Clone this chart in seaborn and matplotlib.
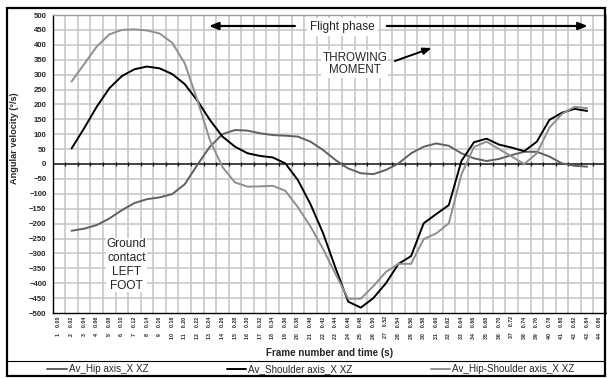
import numpy as np
import pandas as pd
import matplotlib
matplotlib.use("Agg")
import matplotlib.pyplot as plt
from matplotlib.patches import Rectangle
from matplotlib.lines import Line2D
import seaborn as sns

# Category axis: frame numbers and time stamps (s)
frames = [1, 2, 3, 4, 5, 6, 7, 8, 9, 10, 11, 12, 13, 14, 15, 16, 17, 18, 19, 20, 21, 22,
          23, 24, 25, 26, 27, 28, 29, 30, 31, 32, 33, 34, 35, 36, 37, 38, 39, 40, 41, 42, 43, 44]
times = ["0.00", "0.02", "0.04", "0.06", "0.08", "0.10", "0.12", "0.14", "0.16", "0.18", "0.20",
         "0.22", "0.24", "0.26", "0.28", "0.30", "0.32", "0.34", "0.36", "0.38", "0.40", "0.42",
         "0.44", "0.46", "0.48", "0.50", "0.52", "0.54", "0.56", "0.58", "0.60", "0.62", "0.64",
         "0.66", "0.68", "0.70", "0.72", "0.74", "0.76", "0.78", "0.80", "0.82", "0.84", "0.86"]

# Measured frames (category positions) and angular velocities (deg/s)
frame_idx = [1, 2, 3, 4, 5, 6, 7, 8, 9, 10, 11, 12, 13, 14, 15, 16, 17, 18, 19, 20, 21,
             22, 23, 24, 25, 26, 27, 28, 29, 30, 31, 32, 33, 34, 35, 36, 37, 38, 39, 40, 41, 42]
hip = [-224, -217, -205, -183, -155, -131, -118, -112, -101, -68, -3, 58, 100, 114, 112, 103,
       97, 95, 92, 75, 47, 13, -15, -31, -34, -20, 2, 36, 58, 69, 61, 36, 19, 10, 17, 30, 41,
       41, 25, 2, -6, -9]
shoulder = [52, 120, 192, 254, 295, 318, 327, 321, 302, 268, 213, 148, 92, 58, 36, 27, 22, 2,
            -54, -135, -232, -350, -462, -482, -450, -400, -335, -309, -199, -168, -138, 10, 73,
            85, 65, 55, 43, 75, 148, 172, 185, 178]
hip_shoulder = [277, 335, 394, 435, 450, 452, 448, 438, 407, 338, 215, 80, -10, -62, -76, -75,
                -73, -90, -145, -210, -285, -370, -452, -452, -410, -362, -335, -335, -252, -233,
                -199, -35, 57, 75, 50, 25, 0, 36, 122, 168, 192, 187]

series_names = ["Av_Hip axis_X XZ", "Av_Shoulder axis_X XZ", "Av_Hip-Shoulder axis_X XZ"]
series_colors = ["#606060", "#000000", "#8f8f8f"]

df = pd.concat([
    pd.DataFrame({"frame": frame_idx, "velocity": hip, "series": series_names[0]}),
    pd.DataFrame({"frame": frame_idx, "velocity": shoulder, "series": series_names[1]}),
    pd.DataFrame({"frame": frame_idx, "velocity": hip_shoulder, "series": series_names[2]}),
], ignore_index=True)

sns.set_style("white")
plt.rcParams["font.family"] = ["Liberation Sans", "DejaVu Sans"]

W, H = 607, 378
fig = plt.figure(figsize=(W / 100, H / 100), dpi=100)
ax = fig.add_axes([52.7 / W, 1 - 313 / H, (606 - 52.7) / W, (313 - 15) / H])

n_cat = len(frames)
ax.set_xlim(-0.5, n_cat - 0.5)
ax.set_ylim(-500, 500)

# grid: category boundaries and every 50 deg/s
bounds = np.arange(n_cat + 1) - 0.5
for b in bounds[1:-1]:
    ax.axvline(b, color="#c4c4c4", lw=1.1, zorder=0)
for v in np.arange(-450, 500, 50):
    ax.axhline(v, color="#c4c4c4", lw=1.1, zorder=0)

# category axis crossing at zero
ax.axhline(0, color="#3a3a3a", lw=1.3, zorder=1)
ax.vlines(bounds[1:-1], -7, 7, color="#111111", lw=0.9, zorder=1)

sns.lineplot(data=df, x="frame", y="velocity", hue="series", hue_order=series_names,
             palette=series_colors, linewidth=1.4, ax=ax, zorder=3)
handles, labels = ax.get_legend_handles_labels()
ax.get_legend().remove()

# axes styling
for side in ["left", "bottom"]:
    ax.spines[side].set_color("#000000")
    ax.spines[side].set_linewidth(1.0)
for side in ["top", "right"]:
    ax.spines[side].set_color("#9a9a9a")
    ax.spines[side].set_linewidth(1.0)

ax.set_yticks(np.arange(-500, 501, 50))
ax.tick_params(axis="y", direction="out", length=2.5, width=0.8, color="#000000",
               labelsize=5.6, pad=2)
for t in ax.get_yticklabels():
    t.set_fontweight("bold")

ax.set_xticks(np.arange(n_cat))
ax.set_xticklabels([f"{f}    {t}" for f, t in zip(frames, times)], rotation=90,
                   fontsize=3.8, fontweight="bold", va="top", ha="center")
ax.tick_params(axis="x", which="major", length=0, pad=2.5)
ax.set_xticks(bounds, minor=True)
ax.tick_params(axis="x", which="minor", direction="out", length=21, width=0.8,
               color="#000000")
ax.set_xlabel("")
ax.set_ylabel("")

fig.text(329.5 / W, 1 - 353 / H, "Frame number and time (s)", ha="center", va="center",
         fontsize=7.1, fontweight="bold")
fig.text(15 / W, 1 - 138 / H, "Angular velocity (°/s)", rotation=90, ha="center",
         va="center", fontsize=6.6, fontweight="bold")

# annotations
def px_to_data(px, py):
    return (px - 52.7) / 12.58 - 0.5, (164 - py) * 500 / 149

arrow_kw = dict(arrowstyle="-|>,head_length=0.55,head_width=0.22", color="#000000",
                lw=1.6, shrinkA=0, shrinkB=0)
ax.annotate("", xy=px_to_data(209, 26), xytext=px_to_data(295, 26), arrowprops=arrow_kw,
            zorder=5)
ax.annotate("", xy=px_to_data(588, 26), xytext=px_to_data(387, 26), arrowprops=arrow_kw,
            zorder=5)
fx, fy = px_to_data(342.5, 27)
ax.text(fx, fy, "Flight phase", ha="center", va="center", fontsize=8.6, zorder=6,
        bbox=dict(boxstyle="square,pad=0.25", fc="white", ec="none"))

tx, ty = px_to_data(355, 64)
ax.text(tx, ty, "THROWING\nMOMENT", ha="center", va="center", fontsize=8.4,
        linespacing=1.1, zorder=6,
        bbox=dict(boxstyle="square,pad=0.1", fc="white", ec="none"))
ax.annotate("", xy=px_to_data(431.7, 48), xytext=px_to_data(395, 61),
            arrowprops=dict(arrowstyle="-|>,head_length=0.5,head_width=0.2",
                            color="#000000", lw=1.4, shrinkA=0, shrinkB=0), zorder=5)

gx, gy = px_to_data(126.7, 265)
ax.text(gx, gy, "Ground\ncontact\nLEFT\nFOOT", ha="center", va="center", fontsize=8.6,
        linespacing=1.2, zorder=6,
        bbox=dict(boxstyle="square,pad=0.05", fc="white", ec="none"))

# legend strip along the bottom of the frame
fig.legend(handles, labels, loc="center", bbox_to_anchor=(311 / W, 1 - 369 / H),
           ncol=3, frameon=False, fontsize=7.1, handlelength=2.0, handletextpad=0.2,
           columnspacing=7.9, borderaxespad=0, borderpad=0)
fig.add_artist(Line2D([7 / W, 605 / W], [1 - 361 / H] * 2, color="#000000", lw=0.8))

# outer chart frame
fig.add_artist(Rectangle((7 / W, 2 / H), 598 / W, 368 / H, transform=fig.transFigure,
                         fill=False, ec="#000000", lw=1.6))

fig.savefig("out.png", dpi=100)
